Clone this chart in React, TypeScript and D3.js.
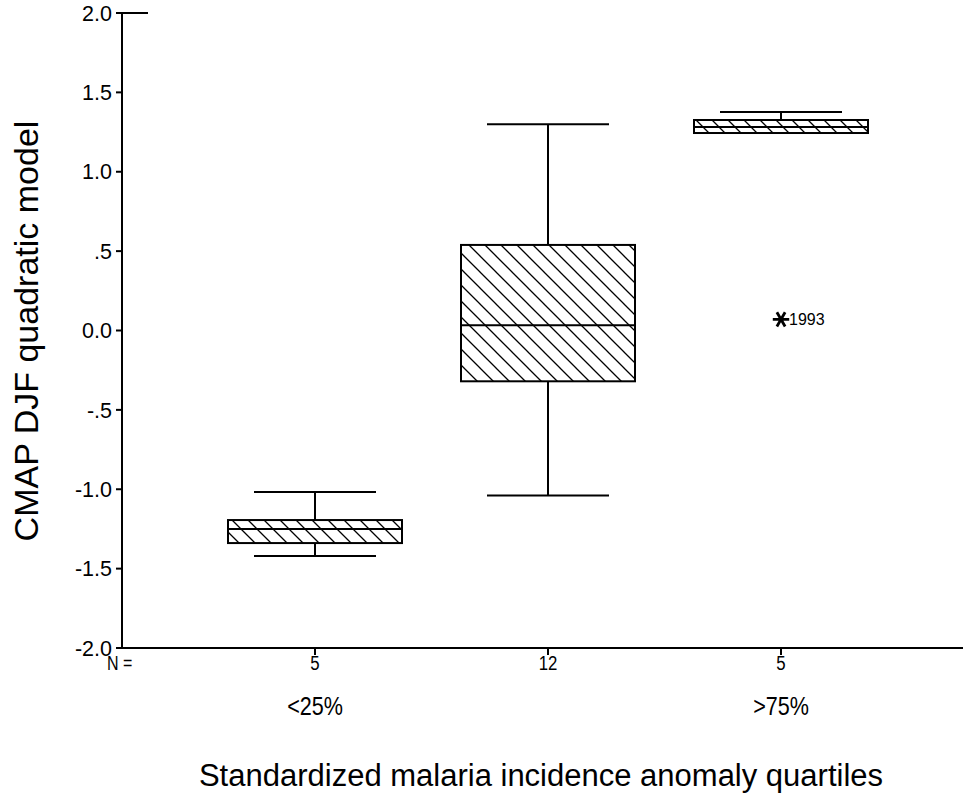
import React from "react";
import * as d3 from "d3";

// ---- data ----
const categories = ["<25%", "25-75%", ">75%"];
const categoryLabels = ["<25%", "", ">75%"];
const nCounts = [5, 12, 5];
const whiskerLow = [-1.42, -1.04, 1.244];
const q1 = [-1.339, -0.32, 1.244];
const median = [-1.25, 0.033, 1.282];
const q3 = [-1.194, 0.539, 1.326];
const whiskerHigh = [-1.017, 1.3, 1.376];
const outlierCats = [">75%"];
const outlierValues = [0.07];
const outlierLabels = ["1993"];
const yTicks = [2, 1.5, 1, 0.5, 0, -0.5, -1, -1.5, -2];
const yTickLabels = ["2.0", "1.5", "1.0", ".5", "0.0", "-.5", "-1.0", "-1.5", "-2.0"];

const W = 963;
const H = 801;
const axisX = 122;
const axisY = 648;
const topY = 13;
const boxW = 174;
const capW = 122;

const sans = "'Liberation Sans', Arial, sans-serif";

export default function App() {
  const y = d3.scaleLinear().domain([-2, 2]).range([axisY, topY]);
  const x = d3.scalePoint<string>().domain(categories).range([315, 781]);
  const star = d3.symbol().type(d3.symbolAsterisk).size(190)();

  return (
    <svg width={W} height={H} style={{ position: "absolute", left: 0, top: 0, background: "#fff" }}>
      <defs>
        <pattern id="hatch" patternUnits="userSpaceOnUse" width={16} height={16}>
          <path d="M0,0 L16,16 M-4,12 L4,20 M12,-4 L20,4" stroke="#000" strokeWidth={1.3} />
        </pattern>
      </defs>
      <rect x={0} y={0} width={W} height={H} fill="#fff" />

      {/* y axis */}
      <line x1={axisX} x2={axisX} y1={topY} y2={axisY} stroke="#000" strokeWidth={2} />
      <line x1={axisX - 6} x2={148} y1={topY} y2={topY} stroke="#000" strokeWidth={2} />
      {yTicks.map((t, i) => (
        <g key={i}>
          <line x1={axisX - 6} x2={axisX} y1={y(t)} y2={y(t)} stroke="#000" strokeWidth={2} />
          <text x={axisX - 10} y={y(t)} dy="0.36em" textAnchor="end" fontFamily={sans} fontSize={21.5} fill="#000">
            {yTickLabels[i]}
          </text>
        </g>
      ))}
      <text
        transform={`translate(${38},${331}) rotate(-90)`}
        textAnchor="middle"
        fontFamily={sans}
        fontSize={34}
        fill="#000"
      >
        CMAP DJF quadratic model
      </text>

      {/* x axis */}
      <line x1={axisX - 6} x2={W} y1={axisY} y2={axisY} stroke="#000" strokeWidth={2} />
      {categories.map((c, i) => (
        <g key={c}>
          <line x1={x(c)} x2={x(c)} y1={axisY} y2={axisY + 7} stroke="#000" strokeWidth={2} />
          <text
            transform={`translate(${x(c)},${670}) scale(0.8,1)`}
            textAnchor="middle"
            fontFamily={sans}
            fontSize={21}
            fill="#000"
          >
            {nCounts[i]}
          </text>
          <text
            transform={`translate(${x(c)},${715}) scale(0.83,1)`}
            textAnchor="middle"
            fontFamily={sans}
            fontSize={26}
            fill="#000"
          >
            {categoryLabels[i]}
          </text>
        </g>
      ))}
      <text transform={`translate(107,670) scale(0.8,1)`} fontFamily={sans} fontSize={20} fill="#000">N =</text>
      <text x={541} y={786} textAnchor="middle" fontFamily={sans} fontSize={31} fill="#000">
        Standardized malaria incidence anomaly quartiles
      </text>

      {/* boxes */}
      {categories.map((c, i) => {
        const cx = x(c) as number;
        return (
          <g key={"b" + c} stroke="#000" strokeWidth={2}>
            <line x1={cx} x2={cx} y1={y(whiskerHigh[i])} y2={y(q3[i])} />
            <line x1={cx} x2={cx} y1={y(q1[i])} y2={y(whiskerLow[i])} />
            <line x1={cx - capW / 2} x2={cx + capW / 2} y1={y(whiskerHigh[i])} y2={y(whiskerHigh[i])} />
            {whiskerLow[i] < q1[i] && (
              <line x1={cx - capW / 2} x2={cx + capW / 2} y1={y(whiskerLow[i])} y2={y(whiskerLow[i])} />
            )}
            <rect
              x={cx - boxW / 2}
              y={y(q3[i])}
              width={boxW}
              height={y(q1[i]) - y(q3[i])}
              fill="url(#hatch)"
            />
            <line x1={cx - boxW / 2} x2={cx + boxW / 2} y1={y(median[i])} y2={y(median[i])} />
          </g>
        );
      })}

      {/* outliers */}
      {outlierCats.map((c, i) => (
        <g key={"o" + i}>
          <path
            d={star as string}
            transform={`translate(${x(c)},${y(outlierValues[i])}) rotate(90)`}
            stroke="#000"
            strokeWidth={2.8}
            fill="none"
          />
          <text x={(x(c) as number) + 8} y={y(outlierValues[i])} dy="0.36em" fontFamily={sans} fontSize={16} fill="#000">
            {outlierLabels[i]}
          </text>
        </g>
      ))}
    </svg>
  );
}
